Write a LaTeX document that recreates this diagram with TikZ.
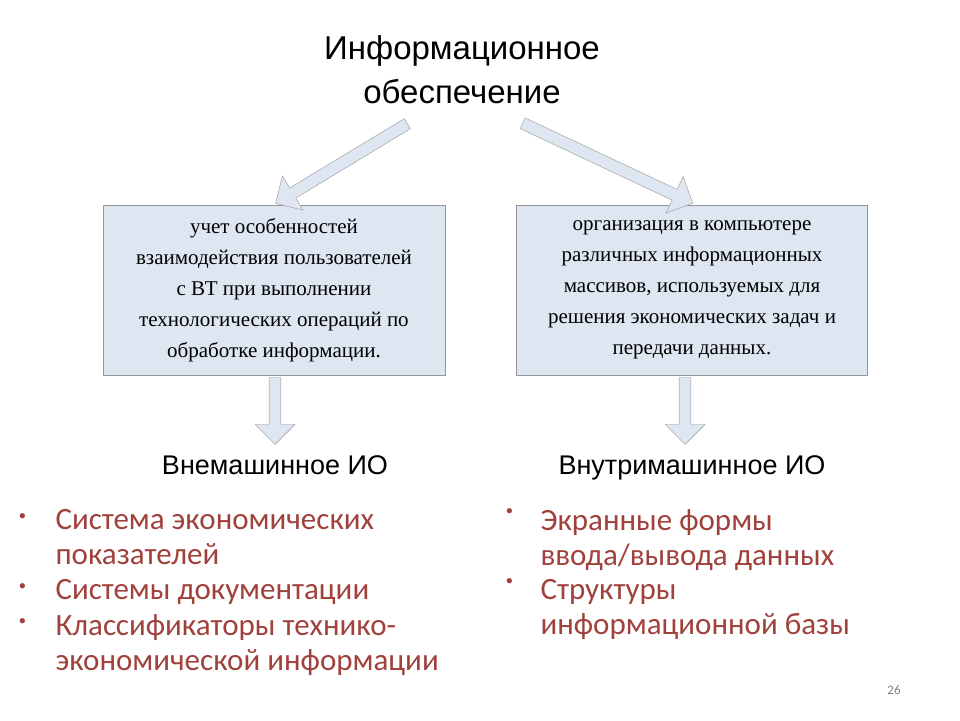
\documentclass[tikz,border=0pt]{standalone}
\usepackage{fontspec}
\setmainfont{Liberation Serif}
\newfontfamily\headfont{Liberation Sans}
\newfontfamily\listfont{Carlito}
\usetikzlibrary{shapes.arrows,positioning}
\definecolor{boxfill}{RGB}{221,230,241}
\definecolor{boxline}{RGB}{150,150,150}
\definecolor{listred}{RGB}{160,65,60}
\tikzset{
  infobox/.style = {draw=boxline, fill=boxfill, align=center, font=\fontsize{21}{31}\selectfont},
  blockarrow/.style = {single arrow, draw=boxline, fill=boxfill, minimum width=40pt,
    single arrow head extend=10pt, single arrow head indent=0pt, inner sep=4pt},
  heading/.style = {anchor=base, font=\headfont\fontsize{27}{32}\selectfont},
  item/.style = {anchor=north west, text=listred, align=left, font=\listfont\fontsize{31}{35}\selectfont},
  dot/.style = {anchor=north west, text=listred, font=\fontsize{22}{35}\selectfont}
}
\begin{document}
\begin{tikzpicture}[x=1pt,y=-1pt]
	\useasboundingbox (0,0) rectangle (960,720);
	% Title %
	\node [font=\headfont\fontsize{33}{44}\selectfont, align=center] (title) at (462,70) {Информационное\\обеспечение};
	% Boxes %
	\node [infobox, minimum width=342pt, minimum height=170pt] (leftbox) at (274,290)
	  {учет особенностей\\взаимодействия пользователей\\с ВТ при выполнении\\технологических операций по\\обработке информации.};
	\node [infobox, minimum width=351pt, minimum height=170pt] (rightbox) at (692,290)
	  {организация в компьютере\\различных информационных\\массивов, используемых для\\решения экономических задач и\\передачи данных.};
	% Arrows %
	\node [blockarrow, minimum height=154pt, rotate=211.2] (larrow) at (344,162) {};
	\node [blockarrow, minimum height=188pt, rotate=-25.2] (rarrow) at (605,162) {};
	\node [blockarrow, minimum height=67pt, rotate=-90] (ldarrow) at (275,408) {};
	\node [blockarrow, minimum height=67pt, rotate=-90] (rdarrow) at (685,408) {};
	% Headings %
	\node [heading] (lhead) at (275,474) {Внемашинное ИО};
	\node [heading] (rhead) at (692,474) {Внутримашинное ИО};
	% Lists %
	\node [dot] (ld1) at (15,510) {•};
	\node [item] (li1) at (52,506) {Система экономических\\показателей};
	\node [dot] (ld2) at (15,580) {•};
	\node [item] (li2) at (52,576) {Системы документации};
	\node [dot] (ld3) at (15,615) {•};
	\node [item] (li3) at (52,611) {Классификаторы технико-\\экономической информации};
	\node [dot] (rd1) at (502,505) {•};
	\node [item] (ri1) at (537,506) {Экранные формы\\ввода/вывода данных};
	\node [dot] (rd2) at (502,575) {•};
	\node [item] (ri2) at (537,576) {Структуры\\информационной базы};
	% Page number %
	\node [text=gray, font=\listfont\fontsize{13}{15}\selectfont] (page) at (894,690) {26};
\end{tikzpicture}
\end{document}
